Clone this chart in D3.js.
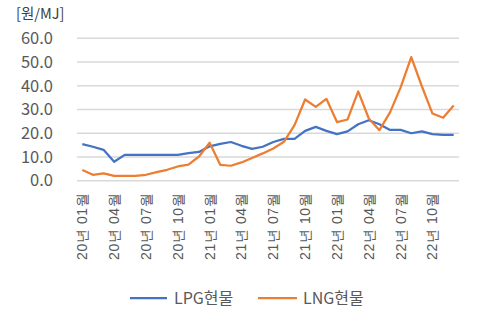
<!DOCTYPE html>
<html>
<head>
<meta charset="utf-8">
<script src="https://cdn.jsdelivr.net/npm/d3@7"></script>
<style>
  html, body { margin: 0; padding: 0; background: #fff; }
  svg { display: block; font-family: "Noto Sans CJK KR", "Noto Sans", sans-serif; }
</style>
</head>
<body>
<svg id="chart" width="481" height="329"></svg>
<script>
// Monthly spot prices, Jan 2020 – Dec 2022
const months = [];
for (const yr of ["20", "21", "22"]) {
  for (const m of ["01","02","03","04","05","06","07","08","09","10","11","12"]) {
    months.push(`${yr}년 ${m}월`);
  }
}
const lpgSpot = [15.4, 14.3, 13.0, 8.0, 10.9, 10.9, 10.9, 10.9, 10.9, 10.9, 11.6, 12.1,
                 14.5, 15.5, 16.3, 14.7, 13.4, 14.3, 16.3, 17.6, 17.6, 21.0, 22.7, 21.0,
                 19.6, 20.8, 23.8, 25.5, 23.8, 21.4, 21.4, 20.0, 20.8, 19.6, 19.3, 19.3];
const lngSpot = [4.5, 2.5, 3.1, 2.0, 2.0, 2.0, 2.5, 3.6, 4.6, 6.0, 6.8, 10.2,
                 16.0, 6.7, 6.3, 7.7, 9.6, 11.5, 13.6, 16.4, 23.4, 34.2, 31.1, 34.5,
                 24.7, 25.8, 37.6, 26.2, 21.3, 28.8, 39.3, 52.1, 39.8, 28.3, 26.5, 31.7];
const yTicks = [0, 10, 20, 30, 40, 50, 60];
const seriesNames = ["LPG현물", "LNG현물"];
const seriesColors = ["#4472C4", "#ED7D31"];
const unitLabel = "[원/MJ]";

const svg = d3.select("#chart");
const plot = { left: 77, right: 459, top: 38.3, bottom: 180.7 };

const x = d3.scaleBand().domain(months).range([plot.left, plot.right]);
const y = d3.scaleLinear().domain([0, 60]).range([plot.bottom, plot.top]);

// horizontal gridlines
svg.append("g")
  .selectAll("line")
  .data(yTicks)
  .join("line")
  .attr("x1", plot.left).attr("x2", plot.right)
  .attr("y1", d => y(d)).attr("y2", d => y(d))
  .attr("stroke", "#d9d9d9").attr("stroke-width", 1.5);

// y-axis
const yAxis = svg.append("g")
  .attr("transform", `translate(${plot.left},0)`)
  .call(d3.axisLeft(y).tickValues(yTicks).tickFormat(d3.format(".1f")).tickSize(0).tickPadding(24));
yAxis.select(".domain").remove();
yAxis.selectAll("text")
  .attr("fill", "#595959").attr("font-size", 16.5)
  .attr("font-family", "'Noto Sans CJK KR', sans-serif");

// unit label
svg.append("text")
  .attr("x", 16).attr("y", 19)
  .attr("font-size", 14.5).attr("fill", "#404040")
  .text(unitLabel);

// x-axis labels every third month
const xAxis = svg.append("g")
  .attr("transform", `translate(0,${plot.bottom})`)
  .call(d3.axisBottom(x).tickValues(months.filter((d, i) => i % 3 === 0)).tickSize(0));
xAxis.select(".domain").remove();
xAxis.selectAll("text")
  .attr("fill", "#595959").attr("font-size", 14)
  .attr("letter-spacing", 0.6)
  .attr("text-anchor", "end")
  .attr("dy", "0.35em")
  .attr("transform", "translate(0,12) rotate(-90)")
  .attr("x", 0).attr("y", 0);

// lines
const line = d3.line()
  .x((d, i) => x(months[i]) + x.bandwidth() / 2)
  .y(d => y(d));

[lpgSpot, lngSpot].forEach((vals, k) => {
  svg.append("path")
    .datum(vals)
    .attr("fill", "none")
    .attr("stroke", seriesColors[k])
    .attr("stroke-width", 2.25)
    .attr("stroke-linejoin", "round")
    .attr("d", line);
});

// legend
const legend = svg.append("g");
const legendItems = [{ x0: 130, x1: 167, tx: 174 }, { x0: 258, x1: 297, tx: 303 }];
legendItems.forEach((p, k) => {
  legend.append("line")
    .attr("x1", p.x0).attr("x2", p.x1)
    .attr("y1", 298).attr("y2", 298)
    .attr("stroke", seriesColors[k]).attr("stroke-width", 2.25);
  legend.append("text")
    .attr("x", p.tx).attr("y", 298).attr("dy", "0.35em")
    .attr("font-size", 16).attr("fill", "#595959")
    .text(seriesNames[k]);
});
</script>
</body>
</html>
